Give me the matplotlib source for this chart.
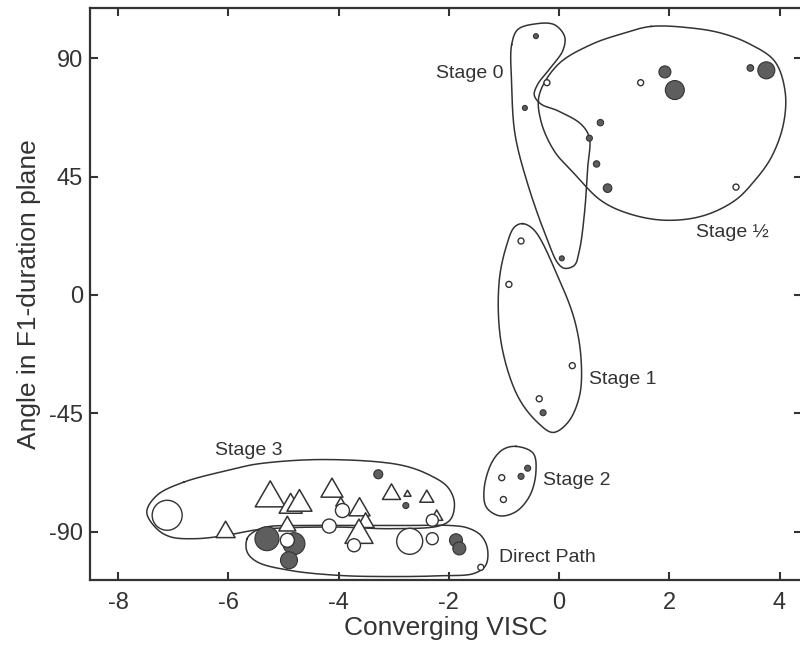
import numpy as np
import matplotlib
matplotlib.use("Agg")
import matplotlib.pyplot as plt

plt.rcParams['font.family'] = ['Liberation Sans', 'DejaVu Sans']

# filled (dark) circles: x, y, size (approx radius in px)
fill_x = [-0.42, -0.62, 0.75, 0.55, 0.68, 0.88, 1.92, 2.10, 3.47, 3.76, 0.05,
          -0.29, -0.69, -0.57, -3.28, -2.78, -5.30, -4.81, -4.90, -1.87, -1.81]
fill_y = [98.4, 71.1, 65.5, 59.6, 49.8, 40.6, 84.8, 77.9, 86.3, 85.4, 13.9,
          -44.8, -69.0, -65.9, -68.2, -80.1, -92.7, -94.6, -100.9, -93.3, -96.4]
fill_r = [2.5, 2.5, 3.2, 3, 3.2, 4.3, 6, 9.5, 3.3, 8.5, 2.5,
          3, 3, 3, 4.5, 3, 12, 11, 8.5, 6.5, 6.5]

# open circles
open_x = [-0.22, 1.48, 3.21, -0.69, -0.91, 0.24, -0.36, -1.04, -1.01,
          -7.11, -4.93, -3.93, -4.17, -3.72, -2.71, -2.30, -2.30, -1.42]
open_y = [80.7, 80.7, 41.0, 20.5, 4.0, -26.9, -39.5, -69.5, -77.8,
          -83.8, -93.3, -82.0, -87.9, -95.2, -93.7, -85.7, -92.7, -103.6]
open_r = [3, 3, 3, 3, 3, 3, 3, 3, 3,
          15, 7, 7, 7, 6.5, 13, 6, 6, 3]

# open triangles (width in px)
tri_x = [-6.05, -5.35, -5.24, -4.93, -4.87, -4.71, -4.12, -3.96, -3.62,
         -3.51, -3.63, -3.04, -2.75, -2.40, -2.22]
tri_y = [-90.2, -91.9, -77.3, -87.9, -80.5, -79.5, -74.5, -79.2, -81.7,
         -86.6, -91.4, -75.8, -75.8, -77.3, -84.4]
tri_w = [19, 15, 30, 17, 23, 25, 22, 10, 21,
         17, 28, 18, 7, 14, 12]

# hand-drawn group outlines (data units)
stage0 = [(-0.86, 95.2), (-0.75, 100.9), (-0.45, 103.0), (-0.09, 102.8), (0.10, 98.3),
          (0.07, 93.0), (-0.15, 86.5), (-0.39, 80.0), (-0.45, 76.0), (-0.33, 72.6),
          (-0.02, 70.0), (0.40, 64.9), (0.55, 59.8), (0.52, 48.5), (0.46, 30.9),
          (0.37, 17.0), (0.28, 11.3), (0.10, 10.1), (-0.02, 12.0), (-0.21, 20.8),
          (-0.57, 42.2), (-0.80, 61.2), (-0.86, 80.1)]
stage_half = [(1.67, 102.1), (2.40, 101.5), (2.95, 99.5), (3.45, 95.5), (3.91, 88.9),
              (4.10, 77.5), (4.07, 64.9), (3.85, 52.3), (3.55, 43.5), (3.19, 35.9),
              (2.60, 30.0), (1.91, 28.4), (1.25, 31.0), (0.76, 35.9), (0.28, 46.0),
              (-0.09, 54.8), (-0.33, 66.2), (-0.36, 76.0), (-0.02, 87.6), (0.58, 95.2),
              (1.19, 99.6)]
stage1 = [(-0.66, 27.1), (-0.45, 24.6), (-0.02, 6.9), (0.28, -9.5), (0.40, -24.6),
          (0.37, -38.5), (0.16, -48.5), (-0.11, -52.3), (-0.39, -48.5), (-0.75, -38.5),
          (-1.05, -18.3), (-1.09, 4.4), (-0.96, 18.3), (-0.81, 25.8)]
stage2 = [(-0.78, -57.6), (-0.47, -60.2), (-0.42, -67.4), (-0.53, -76.3), (-0.78, -82.4),
          (-1.08, -84.0), (-1.32, -80.7), (-1.36, -73.8), (-1.22, -63.7), (-1.02, -58.8)]
stage3 = [(-6.81, -71.2), (-5.90, -66.2), (-5.48, -64.3), (-4.27, -62.6), (-2.87, -64.7),
          (-2.33, -68.7), (-2.02, -73.1), (-1.90, -78.8), (-1.96, -85.1), (-2.15, -87.7),
          (-3.05, -88.9), (-3.96, -88.3), (-4.87, -88.5), (-5.48, -89.3), (-6.05, -91.5),
          (-6.60, -92.7), (-7.05, -92.0), (-7.30, -88.9), (-7.48, -82.6), (-7.30, -76.3)]
direct = [(-5.66, -92.7), (-5.54, -90.1), (-5.30, -88.2), (-4.69, -87.7), (-3.78, -87.7),
          (-2.87, -87.7), (-1.96, -87.7), (-1.66, -88.6), (-1.42, -91.4), (-1.30, -96.4),
          (-1.33, -102.8), (-1.54, -105.9), (-2.15, -106.8), (-3.05, -107.1), (-3.96, -106.7),
          (-4.87, -104.8), (-5.48, -101.5), (-5.66, -97.7)]

labels = [("Stage 0", -1.0, 84.3, 'right'), ("Stage ½", 2.49, 23.8, 'left'),
          ("Stage 1", 0.55, -32.1, 'left'), ("Stage 2", -0.30, -70.6, 'left'),
          ("Direct Path", -1.09, -100.0, 'left'), ("Stage 3", -6.24, -59.3, 'left')]

xticks = [-8, -6, -4, -2, 0, 2, 4]
yticks = [-90, -45, 0, 45, 90]

DARK = '#333333'
FILL = '#5e5e5e'


def closed_spline(pts, n=24):
    # centripetal catmull-rom through the points, closed
    P = np.asarray(pts, float)
    k = len(P)
    out = []
    for i in range(k):
        p0, p1, p2, p3 = P[i - 1], P[i], P[(i + 1) % k], P[(i + 2) % k]
        t0 = 0.0
        t1 = t0 + np.linalg.norm(p1 - p0) ** 0.5
        t2 = t1 + np.linalg.norm(p2 - p1) ** 0.5
        t3 = t2 + np.linalg.norm(p3 - p2) ** 0.5
        t = np.linspace(t1, t2, n, endpoint=False)[:, None]
        a1 = (t1 - t) / (t1 - t0) * p0 + (t - t0) / (t1 - t0) * p1
        a2 = (t2 - t) / (t2 - t1) * p1 + (t - t1) / (t2 - t1) * p2
        a3 = (t3 - t) / (t3 - t2) * p2 + (t - t2) / (t3 - t2) * p3
        b1 = (t2 - t) / (t2 - t0) * a1 + (t - t0) / (t2 - t0) * a2
        b2 = (t3 - t) / (t3 - t1) * a2 + (t - t1) / (t3 - t1) * a3
        out.append((t2 - t) / (t2 - t1) * b1 + (t - t1) / (t2 - t1) * b2)
    out = np.vstack(out)
    return np.vstack([out, out[:1]])


fig = plt.figure(figsize=(8, 6.51), dpi=100)
ax = fig.add_axes([0.1125, 0.1091, 0.8895, 0.8782])
ax.set_xlim(-8.51, 4.40)
ax.set_ylim(-108.4, 109.0)

# outlines: smooth in display space so the curve shape follows the picture
for outline in [stage0, stage_half, stage1, stage2, stage3, direct]:
    disp = ax.transData.transform(outline)
    curve = ax.transData.inverted().transform(closed_spline(disp))
    ax.plot(curve[:, 0], curve[:, 1], color=DARK, lw=1.1, zorder=2)

px2pt = 72 / fig.dpi
ax.scatter(tri_x, tri_y, s=[(w / 0.866 * px2pt) ** 2 for w in tri_w], marker=(3, 0, 0),
           facecolor='white', edgecolor=DARK, linewidths=1.1, zorder=3)
ax.scatter(fill_x, fill_y, s=[(2 * r * px2pt) ** 2 for r in fill_r], marker='o',
           facecolor=FILL, edgecolor=DARK, linewidths=0.8, zorder=4)
ax.scatter(open_x, open_y, s=[(2 * r * px2pt) ** 2 for r in open_r], marker='o',
           facecolor='white', edgecolor=DARK, linewidths=1.0, zorder=5)

for txt, x, y, ha in labels:
    ax.text(x, y, txt, ha=ha, va='center', fontsize=14, color=DARK)

ax.set_xticks(xticks)
ax.set_yticks(yticks)
ax.set_xticklabels([str(v) for v in xticks])
ax.set_yticklabels([str(v) for v in yticks])
ax.tick_params(direction='in', length=6, width=1.5, color=DARK, labelsize=17,
               labelcolor=DARK, top=True, right=True)
ax.tick_params(axis='x', pad=9)
ax.tick_params(axis='y', pad=5)
for sp in ax.spines.values():
    sp.set_linewidth(1.6)
    sp.set_color(DARK)

ax.set_xlabel("Converging VISC", fontsize=19, color=DARK, labelpad=1)
ax.set_ylabel("Angle in F1-duration plane", fontsize=19, color=DARK, labelpad=6)

fig.savefig("out.png", dpi=100)
